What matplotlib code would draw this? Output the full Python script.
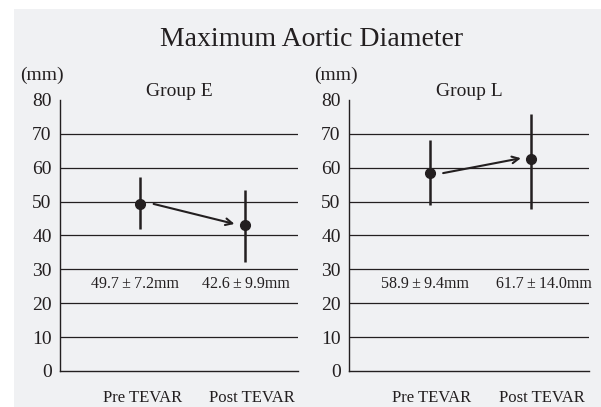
import matplotlib
matplotlib.use("Agg")
import matplotlib.pyplot as plt
from matplotlib.patches import Rectangle

plt.rcParams["font.family"] = ["Liberation Serif", "DejaVu Serif"]

INK = "#231f20"
PANEL = "#f0f1f3"

# Values
groups = ["Group E", "Group L"]
phases = ["Pre TEVAR", "Post TEVAR"]
means = [[49.3, 43.1], [58.4, 62.5]]
err_low = [[41.9, 32.2], [49.0, 47.8]]
err_high = [[57.2, 53.4], [68.1, 75.8]]
summary = [["49.7\u2009\u00b1\u20097.2mm", "42.6\u2009\u00b1\u20099.9mm"],
           ["58.9\u2009\u00b1\u20099.4mm", "61.7\u2009\u00b1\u200914.0mm"]]
yticks = [0, 10, 20, 30, 40, 50, 60, 70, 80]

# per-panel layout (axes rect in figure fractions, x-limits, text x positions)
rects = [[0.0998, 0.0885, 0.396, 0.666], [0.5807, 0.0885, 0.3993, 0.666]]
xlims = [(0.238, 2.505), (0.198, 2.574)]
label_x = [[1.02, 2.07], [1.02, 2.11]]
summary_x = [[0.95, 2.005], [0.946, 2.13]]
mm_x = [0.070, 0.559]

fig = plt.figure(figsize=(6.01, 4.07), dpi=100)
fig.patch.set_facecolor("white")
fig.patches.append(Rectangle((14 / 601, 0), 1, 1 - 9 / 407, transform=fig.transFigure,
                             facecolor=PANEL, edgecolor="none", zorder=-10))

fig.text(312 / 601, 1 - 40 / 407, "Maximum Aortic Diameter", ha="center", va="center",
         fontsize=20, color=INK)

for i, name in enumerate(groups):
    ax = fig.add_axes(rects[i])
    ax.set_facecolor("none")
    xs = [1, 2]
    for y in yticks[1:-1]:
        ax.axhline(y, color=INK, lw=0.9, zorder=1)
    for x, m, lo, hi in zip(xs, means[i], err_low[i], err_high[i]):
        ax.plot([x, x], [lo, hi], color=INK, lw=1.8, zorder=3, solid_capstyle="butt")
        ax.plot(x, m, "o", color=INK, ms=7, zorder=4)
    ax.annotate("", xy=(xs[1] - 0.1, means[i][1] + 0.3), xytext=(xs[0] + 0.13, means[i][0]),
                arrowprops=dict(arrowstyle="->", color=INK, lw=1.5, shrinkA=0, shrinkB=0,
                                mutation_scale=12), zorder=5)
    for x, s in zip(summary_x[i], summary[i]):
        ax.text(x, 25.7, s, ha="center", va="center", fontsize=11.5, color=INK)

    ax.set_xlim(*xlims[i])
    ax.set_ylim(0, 80)
    ax.set_yticks(yticks)
    ax.set_yticklabels([str(t) for t in yticks], fontsize=14, color=INK)
    ax.set_xticks(label_x[i])
    ax.set_xticklabels(phases, fontsize=12, color=INK)
    ax.tick_params(axis="both", length=0)
    ax.tick_params(axis="y", pad=6)
    ax.tick_params(axis="x", pad=14)
    for side in ("top", "right"):
        ax.spines[side].set_visible(False)
    for side in ("left", "bottom"):
        ax.spines[side].set_color(INK)
        ax.spines[side].set_linewidth(1.0)
    ax.text(0.5, 1.03, name, transform=ax.transAxes, ha="center", va="center",
            fontsize=14, color=INK)
    fig.text(mm_x[i], 1 - 75 / 407, "(mm)", ha="center", va="center", fontsize=14, color=INK)

fig.savefig("out.png", dpi=100)
